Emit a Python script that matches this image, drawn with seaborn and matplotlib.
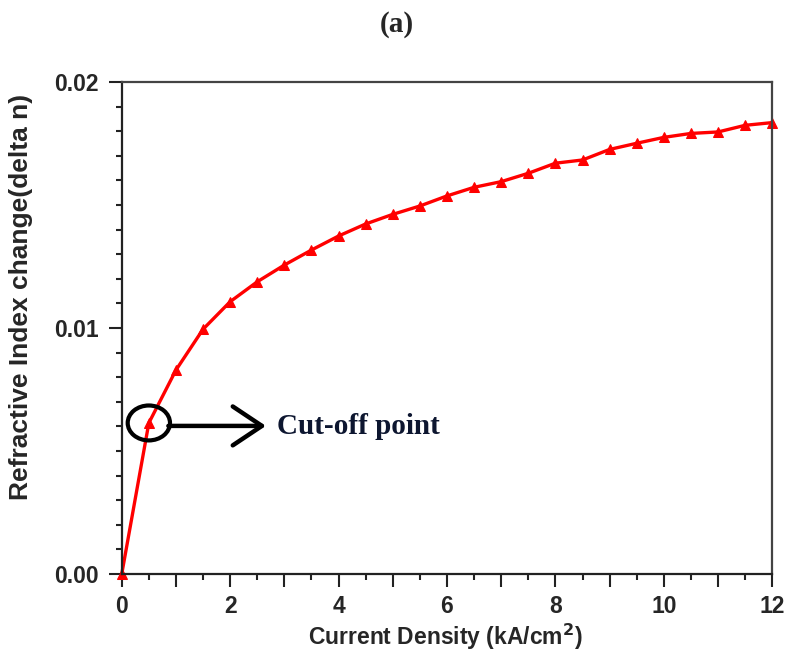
import matplotlib
matplotlib.use("Agg")
import matplotlib.pyplot as plt
from matplotlib.patches import Ellipse
from matplotlib.ticker import MultipleLocator, FuncFormatter
import seaborn as sns
import pandas as pd

# Refractive index change versus injected current density
current_density = [0.0, 0.5, 1.0, 1.5, 2.0, 2.5, 3.0, 3.5, 4.0, 4.5, 5.0, 5.5,
                   6.0, 6.5, 7.0, 7.5, 8.0, 8.5, 9.0, 9.5, 10.0, 10.5, 11.0,
                   11.5, 12.0]
delta_n = [0.0, 0.00614, 0.00829, 0.00995, 0.01107, 0.01188, 0.01256, 0.01317,
           0.01374, 0.01423, 0.01462, 0.01496, 0.01537, 0.01572, 0.01595,
           0.01629, 0.01670, 0.01683, 0.01726, 0.01751, 0.01775, 0.01791,
           0.01797, 0.01824, 0.01835]

cutoff_x = 0.5
cutoff_y = 0.00614

df = pd.DataFrame({"J": current_density, "dn": delta_n})

sns.set_style("ticks")
plt.rcParams["font.family"] = ["Liberation Sans", "DejaVu Sans"]

fig = plt.figure(figsize=(7.88, 6.53), dpi=100)
ax = fig.add_axes([0.1545, 0.1210, 0.8255, 0.7534])

sns.lineplot(data=df, x="J", y="dn", ax=ax, color="#ff0000", linewidth=2.4,
             marker="^", markersize=6.5, markeredgecolor="#ff0000",
             markerfacecolor="#ff0000", clip_on=False)

ax.set_xlim(0, 12)
ax.set_ylim(0, 0.02)

ax.xaxis.set_major_locator(MultipleLocator(1))
ax.xaxis.set_minor_locator(MultipleLocator(0.5))
ax.xaxis.set_major_formatter(FuncFormatter(
    lambda v, p: f"{v:.0f}" if round(v) % 2 == 0 else ""))
ax.yaxis.set_major_locator(MultipleLocator(0.01))
ax.yaxis.set_minor_locator(MultipleLocator(0.001))
ax.yaxis.set_major_formatter(FuncFormatter(lambda v, p: f"{v:.2f}"))

ax.tick_params(axis="x", which="major", direction="out", length=9,
               width=1.5, color="#222222", pad=6, labelsize=16.5)
ax.tick_params(axis="x", which="minor", direction="out", length=4.5,
               width=1.5, color="#222222")
ax.tick_params(axis="y", which="major", direction="out", length=9.5,
               width=1.5, color="#222222", pad=7, labelsize=16.5)
ax.tick_params(axis="y", which="minor", direction="out", length=4.5,
               width=1.5, color="#222222")
for lab in ax.get_xticklabels() + ax.get_yticklabels():
    lab.set_fontweight("bold")

for side in ["left", "bottom"]:
    ax.spines[side].set_color("#222222")
    ax.spines[side].set_linewidth(1.6)
for side in ["top", "right"]:
    ax.spines[side].set_visible(True)
    ax.spines[side].set_color("#444444")
    ax.spines[side].set_linewidth(1.6)

ax.set_xlabel("Current Density (kA/cm$^{\\mathbf{2}}$)", fontsize=16.5,
              fontweight="bold")
ax.set_ylabel("Refractive Index change(delta n)", fontsize=19,
              fontweight="bold")
ax.xaxis.set_label_coords(0.497, -0.098)
ax.yaxis.set_label_coords(-0.137, 0.563)

# Cut-off marker: circle around the first sampled point, arrow and label
ax.add_patch(Ellipse((cutoff_x, cutoff_y), width=0.78, height=0.00142,
                     fill=False, edgecolor="black", linewidth=3.0,
                     clip_on=False, zorder=5))
ax.annotate("", xy=(2.66, 0.00602), xytext=(0.86, 0.00602),
            arrowprops=dict(arrowstyle="->,head_length=2.1,head_width=1.4",
                            color="black", linewidth=3.2,
                            shrinkA=0, shrinkB=0))
ax.text(2.86, 0.00600, "Cut-off point", fontsize=21, fontweight="bold",
        family=["Liberation Serif", "DejaVu Serif"], color="#0d1630",
        va="center", ha="left")

fig.text(0.503, 0.962, "(a)", fontsize=21, fontweight="bold",
         family=["Liberation Serif", "DejaVu Serif"], ha="center",
         va="center")

fig.savefig("out.png", dpi=100, facecolor="white")
